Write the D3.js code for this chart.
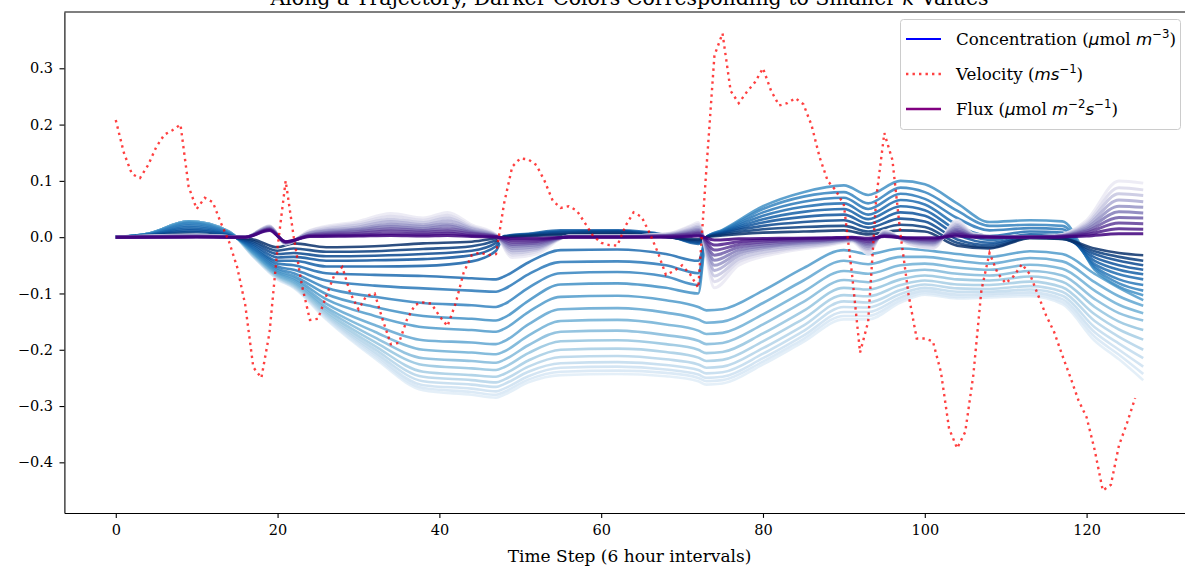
<!DOCTYPE html>
<html>
<head>
<meta charset="utf-8">
<script src="https://cdn.jsdelivr.net/npm/d3@7"></script>
<style>
  body { margin: 0; background: #fff; }
  svg { display: block; }
  text { font-family: "DejaVu Serif", serif; fill: #000; }
  .math { font-family: "DejaVu Sans", sans-serif; }
</style>
</head>
<body>
<svg id="chart" width="1185" height="567"></svg>
<script>
// time steps where the concentration curves were read
var concSteps = [0, 4, 9, 14, 17, 20, 22, 26, 32, 38, 44, 47, 48, 51, 55, 62, 68, 72, 73, 75, 80, 85, 90, 93, 97, 100, 104, 108, 113, 117, 121, 124, 127];

// one row per step above, values for k = 1..20 (darkest first)
var concRows = [
    [0,0,0,0,0,0,0,0,0,0,0,0,0,0,0,0,0,0,0,0],
    [0.002,0.002,0.003,0.003,0.004,0.004,0.005,0.005,0.006,0.006,0.006,0.006,0.006,0.006,0.006,0.006,0.006,0.006,0.006,0.006],
    [0.004,0.006,0.009,0.012,0.015,0.018,0.021,0.024,0.026,0.027,0.028,0.028,0.028,0.028,0.028,0.028,0.028,0.028,0.028,0.028],
    [0,0.001,0.002,0.003,0.004,0.005,0.006,0.007,0.008,0.009,0.009,0.01,0.01,0.01,0.01,0.01,0.01,0.01,0.01,0.01],
    [-0.004,-0.007,-0.01,-0.013,-0.016,-0.019,-0.021,-0.023,-0.025,-0.027,-0.028,-0.029,-0.03,-0.031,-0.032,-0.033,-0.033,-0.034,-0.034,-0.035],
    [-0.018,-0.024,-0.03,-0.036,-0.042,-0.047,-0.052,-0.056,-0.059,-0.062,-0.064,-0.066,-0.068,-0.069,-0.07,-0.071,-0.072,-0.073,-0.074,-0.075],
    [-0.011,-0.02,-0.028,-0.035,-0.042,-0.05,-0.058,-0.064,-0.069,-0.073,-0.076,-0.079,-0.081,-0.083,-0.085,-0.086,-0.087,-0.088,-0.089,-0.09],
    [-0.018,-0.026,-0.034,-0.042,-0.052,-0.064,-0.077,-0.09,-0.101,-0.11,-0.118,-0.124,-0.128,-0.132,-0.135,-0.138,-0.14,-0.142,-0.144,-0.146],
    [-0.016,-0.025,-0.033,-0.041,-0.052,-0.067,-0.086,-0.106,-0.124,-0.14,-0.156,-0.168,-0.178,-0.186,-0.193,-0.199,-0.204,-0.208,-0.212,-0.215],
    [-0.011,-0.021,-0.03,-0.039,-0.051,-0.069,-0.091,-0.117,-0.14,-0.16,-0.183,-0.2,-0.215,-0.227,-0.239,-0.248,-0.256,-0.263,-0.268,-0.272],
    [-0.008,-0.016,-0.024,-0.032,-0.043,-0.073,-0.095,-0.121,-0.145,-0.165,-0.187,-0.205,-0.22,-0.233,-0.245,-0.254,-0.262,-0.269,-0.275,-0.28],
    [-0.002,-0.006,-0.01,-0.016,-0.024,-0.075,-0.097,-0.124,-0.148,-0.168,-0.19,-0.208,-0.223,-0.236,-0.248,-0.258,-0.266,-0.274,-0.28,-0.285],
    [0,0,0.001,0.001,0.002,-0.07,-0.092,-0.119,-0.143,-0.163,-0.185,-0.203,-0.218,-0.231,-0.243,-0.253,-0.261,-0.269,-0.275,-0.28],
    [0.002,0.003,0.004,0.005,0.006,-0.045,-0.066,-0.09,-0.113,-0.133,-0.155,-0.175,-0.192,-0.206,-0.219,-0.23,-0.239,-0.247,-0.253,-0.258],
    [0.004,0.006,0.008,0.01,0.012,-0.023,-0.044,-0.064,-0.084,-0.106,-0.128,-0.149,-0.168,-0.185,-0.2,-0.213,-0.224,-0.232,-0.239,-0.245],
    [0.006,0.008,0.01,0.011,0.012,-0.022,-0.043,-0.062,-0.082,-0.104,-0.126,-0.147,-0.166,-0.183,-0.198,-0.211,-0.222,-0.23,-0.237,-0.243],
    [0,0.001,0.002,0.003,0.004,-0.03,-0.05,-0.07,-0.09,-0.112,-0.134,-0.155,-0.174,-0.19,-0.204,-0.217,-0.227,-0.235,-0.241,-0.247],
    [-0.004,-0.006,-0.008,-0.01,-0.012,-0.042,-0.064,-0.085,-0.1,-0.124,-0.146,-0.166,-0.184,-0.2,-0.214,-0.226,-0.236,-0.244,-0.25,-0.256],
    [0,0,0,0,0,0,0,0,0,-0.13,-0.152,-0.172,-0.19,-0.206,-0.22,-0.232,-0.242,-0.25,-0.256,-0.262],
    [0.003,0.005,0.007,0.008,0.009,0.01,0.011,0.012,0.013,-0.128,-0.15,-0.17,-0.188,-0.204,-0.218,-0.23,-0.24,-0.248,-0.254,-0.26],
    [0.008,0.014,0.02,0.026,0.032,0.038,0.044,0.05,0.055,-0.095,-0.117,-0.137,-0.155,-0.171,-0.185,-0.197,-0.207,-0.215,-0.221,-0.226],
    [0.01,0.018,0.027,0.036,0.045,0.054,0.063,0.072,0.08,-0.055,-0.077,-0.097,-0.115,-0.131,-0.145,-0.157,-0.167,-0.175,-0.181,-0.186],
    [0.012,0.02,0.03,0.04,0.05,0.06,0.07,0.08,0.092,-0.023,-0.042,-0.06,-0.076,-0.09,-0.103,-0.114,-0.124,-0.133,-0.14,-0.146],
    [0.005,0.01,0.017,0.024,0.032,0.04,0.05,0.06,0.075,-0.03,-0.048,-0.065,-0.08,-0.093,-0.105,-0.116,-0.125,-0.133,-0.14,-0.146],
    [0.012,0.022,0.033,0.044,0.055,0.066,0.077,0.088,0.1,-0.02,-0.035,-0.05,-0.063,-0.075,-0.085,-0.094,-0.101,-0.107,-0.112,-0.116],
    [0.01,0.018,0.028,0.038,0.048,0.058,0.068,0.08,0.094,-0.023,-0.035,-0.047,-0.058,-0.068,-0.077,-0.084,-0.09,-0.095,-0.099,-0.102],
    [-0.015,-0.01,-0.004,0.004,0.012,0.022,0.034,0.047,0.06,-0.03,-0.042,-0.054,-0.065,-0.075,-0.084,-0.091,-0.097,-0.102,-0.106,-0.109],
    [-0.02,-0.018,-0.014,-0.01,-0.005,0.002,0.012,0.02,0.027,-0.035,-0.047,-0.058,-0.068,-0.077,-0.085,-0.092,-0.097,-0.101,-0.104,-0.107],
    [-0.002,-0.001,0,0.002,0.005,0.01,0.016,0.022,0.03,-0.025,-0.037,-0.049,-0.06,-0.07,-0.079,-0.087,-0.093,-0.098,-0.102,-0.105],
    [-0.003,-0.003,-0.002,0,0.003,0.008,0.014,0.02,0.028,-0.03,-0.043,-0.056,-0.068,-0.079,-0.089,-0.097,-0.104,-0.11,-0.115,-0.119],
    [-0.02,-0.025,-0.03,-0.036,-0.042,-0.048,-0.052,-0.055,-0.058,-0.065,-0.08,-0.095,-0.11,-0.124,-0.137,-0.149,-0.16,-0.169,-0.177,-0.184],
    [-0.028,-0.035,-0.042,-0.05,-0.058,-0.066,-0.075,-0.082,-0.088,-0.09,-0.105,-0.12,-0.135,-0.15,-0.164,-0.177,-0.189,-0.2,-0.209,-0.217],
    [-0.032,-0.042,-0.05,-0.058,-0.066,-0.075,-0.085,-0.095,-0.103,-0.112,-0.122,-0.135,-0.148,-0.165,-0.182,-0.2,-0.215,-0.23,-0.243,-0.254]
];

// time steps where the flux curves were read
var fluxSteps = [0, 10, 16, 19, 21, 24, 30, 34, 38, 41, 44, 47, 49, 52, 56, 62, 68, 71, 72, 74, 77, 82, 88, 91, 93, 95, 98, 101, 104, 106, 110, 116, 120, 124, 127];

// one row per step above, values for k = 1..10 (darkest first)
var fluxRows = [
    [0,0,0,0,0,0,0,0,0,0],
    [0,0.001,0.001,0.001,0.002,0.002,0.003,0.003,0.004,0.004],
    [0,0,0,0,0,0,0,0,0,0],
    [0.012,0.013,0.014,0.015,0.016,0.017,0.018,0.019,0.02,0.02],
    [-0.008,-0.008,-0.009,-0.009,-0.01,-0.01,-0.011,-0.011,-0.012,-0.012],
    [0.001,0.002,0.003,0.004,0.005,0.007,0.008,0.009,0.011,0.012],
    [0.002,0.004,0.007,0.01,0.013,0.015,0.018,0.022,0.025,0.028],
    [0.003,0.006,0.011,0.015,0.019,0.023,0.028,0.032,0.037,0.042],
    [0.002,0.005,0.009,0.012,0.015,0.019,0.022,0.026,0.03,0.034],
    [0.003,0.007,0.011,0.015,0.02,0.024,0.029,0.034,0.039,0.044],
    [0.001,0.003,0.006,0.008,0.01,0.012,0.015,0.017,0.019,0.022],
    [0,0.001,0.001,0.001,0.002,0.002,0.003,0.003,0.004,0.004],
    [-0.002,-0.005,-0.009,-0.013,-0.016,-0.02,-0.024,-0.028,-0.032,-0.036],
    [-0.002,-0.005,-0.008,-0.011,-0.014,-0.017,-0.02,-0.023,-0.026,-0.03],
    [0,0,0.001,0.001,0.001,0.001,0.001,0.002,0.002,0.002],
    [0,0,0.001,0.001,0.001,0.001,0.001,0.002,0.002,0.002],
    [0,0.001,0.002,0.002,0.003,0.003,0.004,0.005,0.005,0.006],
    [0.001,0.003,0.005,0.007,0.009,0.011,0.013,0.015,0.018,0.02],
    [0.002,0.004,0.007,0.009,0.012,0.014,0.017,0.02,0.023,0.026],
    [-0.005,-0.014,-0.023,-0.032,-0.041,-0.05,-0.059,-0.069,-0.079,-0.09],
    [-0.003,-0.008,-0.013,-0.018,-0.023,-0.028,-0.033,-0.039,-0.044,-0.05],
    [-0.002,-0.004,-0.007,-0.01,-0.013,-0.015,-0.018,-0.022,-0.025,-0.028],
    [-0.001,-0.002,-0.004,-0.005,-0.007,-0.008,-0.01,-0.012,-0.013,-0.015],
    [0,-0.001,-0.002,-0.003,-0.004,-0.004,-0.005,-0.006,-0.007,-0.008],
    [-0.002,-0.005,-0.008,-0.011,-0.014,-0.017,-0.02,-0.023,-0.026,-0.03],
    [0.001,0.002,0.003,0.004,0.005,0.007,0.008,0.009,0.011,0.012],
    [-0.001,-0.002,-0.003,-0.004,-0.005,-0.007,-0.008,-0.009,-0.011,-0.012],
    [-0.001,-0.003,-0.005,-0.007,-0.009,-0.011,-0.013,-0.015,-0.018,-0.02],
    [0.002,0.005,0.008,0.011,0.014,0.017,0.02,0.023,0.026,0.03],
    [0,0.001,0.002,0.002,0.003,0.003,0.004,0.005,0.005,0.006],
    [0,0,0,0,0,0,0,0,0,0],
    [0,0,0.001,0.001,0.001,0.001,0.001,0.002,0.002,0.002],
    [0.002,0.005,0.008,0.011,0.014,0.017,0.02,0.023,0.026,0.03],
    [0.006,0.015,0.025,0.035,0.045,0.055,0.066,0.077,0.088,0.1],
    [0.006,0.014,0.024,0.034,0.043,0.053,0.063,0.074,0.084,0.096]
];

// velocity at every step, t = 0..126
var velocity = [
    0.208, 0.15, 0.112, 0.105, 0.128, 0.16, 0.182, 0.19, 0.2, 0.09,
    0.05, 0.07, 0.062, 0.025, -0.008, -0.053, -0.12, -0.231, -0.25, -0.17,
    -0.018, 0.1, 0.0, -0.085, -0.147, -0.145, -0.105, -0.068, -0.053, -0.1,
    -0.128, -0.104, -0.1, -0.147, -0.19, -0.188, -0.146, -0.12, -0.116, -0.118,
    -0.14, -0.158, -0.118, -0.063, -0.032, -0.027, -0.032, -0.03, 0.06, 0.125,
    0.14, 0.138, 0.128, 0.1, 0.065, 0.052, 0.055, 0.047, 0.025, 0.002,
    -0.01, -0.014, -0.015, 0.02, 0.044, 0.036, 0.007, -0.027, -0.067, -0.06,
    -0.05, -0.066, -0.09, 0.12, 0.323, 0.362, 0.26, 0.238, 0.258, 0.275,
    0.3, 0.26, 0.234, 0.238, 0.247, 0.236, 0.199, 0.142, 0.1, 0.083,
    0.057, -0.065, -0.205, -0.15, 0.07, 0.185, 0.137, 0.005, -0.103, -0.18,
    -0.18, -0.185, -0.24, -0.34, -0.375, -0.346, -0.245, -0.094, -0.028, -0.064,
    -0.082, -0.069, -0.048, -0.066, -0.103, -0.139, -0.169, -0.21, -0.249, -0.29,
    -0.32, -0.378, -0.45, -0.44, -0.37, -0.33, -0.286
];

var xTicks = [0, 20, 40, 60, 80, 100, 120];
var yTicks = [-0.4, -0.3, -0.2, -0.1, 0.0, 0.1, 0.2, 0.3];

var svg = d3.select("#chart");

// axes box (right edge falls just outside the picture)
var boxLeft = 64.4, boxRight = 1194.6, boxTop = 12, boxBottom = 513;

var x = d3.scaleLinear().domain([-6.35, 133.35]).range([boxLeft, boxRight]);
var y = d3.scaleLinear().domain([-0.49, 0.40]).range([boxBottom, boxTop]);

svg.append("clipPath").attr("id", "plotclip")
    .append("rect")
    .attr("x", boxLeft).attr("y", boxTop)
    .attr("width", boxRight - boxLeft).attr("height", boxBottom - boxTop);

var plot = svg.append("g").attr("clip-path", "url(#plotclip)");

var line = d3.line()
    .x(function (d) { return x(d[0]); })
    .y(function (d) { return y(d[1]); })
    .curve(d3.curveMonotoneX);

var nConc = concRows[0].length;
var concLines = d3.range(nConc).map(function (k) {
    return concSteps.map(function (t, i) { return [t, concRows[i][k]]; });
});

var nFlux = fluxRows[0].length;
var fluxLines = d3.range(nFlux).map(function (k) {
    return fluxSteps.map(function (t, i) { return [t, fluxRows[i][k]]; });
});

// lighter (larger k) first so darker lines end on top
plot.selectAll(".conc")
    .data(concLines.slice().reverse())
    .enter().append("path")
    .attr("class", "conc")
    .attr("d", line)
    .attr("fill", "none")
    .attr("stroke-width", 2.6)
    .attr("stroke-opacity", 0.85)
    .attr("stroke", function (d, i) {
        var k = nConc - 1 - i;
        return d3.interpolateBlues(1 - 0.88 * k / (nConc - 1));
    });

plot.selectAll(".flux")
    .data(fluxLines.slice().reverse())
    .enter().append("path")
    .attr("class", "flux")
    .attr("d", line)
    .attr("fill", "none")
    .attr("stroke-width", 3)
    .attr("stroke-opacity", 0.85)
    .attr("stroke", function (d, i) {
        var k = nFlux - 1 - i;
        return d3.interpolatePurples(1 - 0.85 * k / (nFlux - 1));
    });

var velLine = d3.line()
    .x(function (d, i) { return x(i); })
    .y(function (d) { return y(d); });

plot.append("path")
    .datum(velocity)
    .attr("d", velLine)
    .attr("fill", "none")
    .attr("stroke", "red")
    .attr("stroke-opacity", 0.75)
    .attr("stroke-width", 2.4)
    .attr("stroke-dasharray", "2.4,4.1");

// axes
svg.append("g")
    .attr("transform", "translate(0," + boxBottom + ")")
    .call(d3.axisBottom(x).tickValues(xTicks).tickFormat(d3.format("d"))
        .tickSize(4.9).tickSizeOuter(0).tickPadding(6.5));

svg.append("g")
    .attr("transform", "translate(" + boxLeft + ",0)")
    .call(d3.axisLeft(y).tickValues(yTicks).tickFormat(d3.format(".1f"))
        .tickSize(4.9).tickSizeOuter(0).tickPadding(6.5));

svg.selectAll(".tick text")
    .style("font-family", "DejaVu Serif, serif")
    .style("font-size", "14.5px")
    .attr("fill", "#000");
svg.selectAll(".tick line").attr("stroke", "#000").attr("stroke-width", 1.1);
svg.selectAll(".domain").attr("stroke", "#000").attr("stroke-width", 1.1);

svg.append("line")
    .attr("x1", boxLeft).attr("x2", boxRight)
    .attr("y1", boxTop).attr("y2", boxTop)
    .attr("stroke", "#000").attr("stroke-width", 1.1);

// x label
svg.append("text")
    .attr("x", (boxLeft + boxRight) / 2)
    .attr("y", 562)
    .attr("text-anchor", "middle")
    .style("font-size", "17px")
    .text("Time Step (6 hour intervals)");

// title, mostly cut off by the top edge
var title = svg.append("text")
    .attr("x", (boxLeft + boxRight) / 2)
    .attr("y", 5)
    .attr("text-anchor", "middle")
    .style("font-size", "20.5px");
title.append("tspan").text("Along a Trajectory, Darker Colors Corresponding to Smaller ");
title.append("tspan").attr("class", "math").style("font-style", "italic").text("k");
title.append("tspan").text(" Values");

// legend
var legend = svg.append("g");
legend.append("rect")
    .attr("x", 900.5).attr("y", 19.5)
    .attr("width", 280).attr("height", 110)
    .attr("rx", 3)
    .attr("fill", "#fff").attr("fill-opacity", 0.8)
    .attr("stroke", "#cccccc").attr("stroke-width", 1);

var rows = [
    { y: 39, stroke: "blue", width: 2.2, dash: null, opacity: 1 },
    { y: 74, stroke: "red", width: 2.4, dash: "2.4,4.1", opacity: 0.75 },
    { y: 109, stroke: "purple", width: 2.6, dash: null, opacity: 1 }
];
rows.forEach(function (r) {
    legend.append("line")
        .attr("x1", 906).attr("x2", 941)
        .attr("y1", r.y).attr("y2", r.y)
        .attr("stroke", r.stroke)
        .attr("stroke-width", r.width)
        .attr("stroke-opacity", r.opacity)
        .attr("stroke-dasharray", r.dash);
});

function label(yPos, parts) {
    var t = legend.append("text")
        .attr("x", 956).attr("y", yPos + 6)
        .style("font-size", "16.7px");
    parts.forEach(function (p) {
        var s = t.append("tspan").text(p.s);
        if (p.math) s.attr("class", "math").style("font-style", p.up ? "normal" : "italic");
        if (p.sup) s.style("font-size", "11.7px").attr("dy", -7);
        if (p.down) s.attr("dy", 7);
    });
}

label(39, [
    { s: "Concentration (" },
    { s: "\u03bc", math: true },
    { s: "mol " },
    { s: "m", math: true },
    { s: "\u22123", math: true, up: true, sup: true },
    { s: ")", down: true }
]);
label(74, [
    { s: "Velocity (" },
    { s: "ms", math: true },
    { s: "\u22121", math: true, up: true, sup: true },
    { s: ")", down: true }
]);
label(109, [
    { s: "Flux (" },
    { s: "\u03bc", math: true },
    { s: "mol " },
    { s: "m", math: true },
    { s: "\u22122", math: true, up: true, sup: true },
    { s: "s", math: true, down: true },
    { s: "\u22121", math: true, up: true, sup: true },
    { s: ")", down: true }
]);
</script>
</body>
</html>
